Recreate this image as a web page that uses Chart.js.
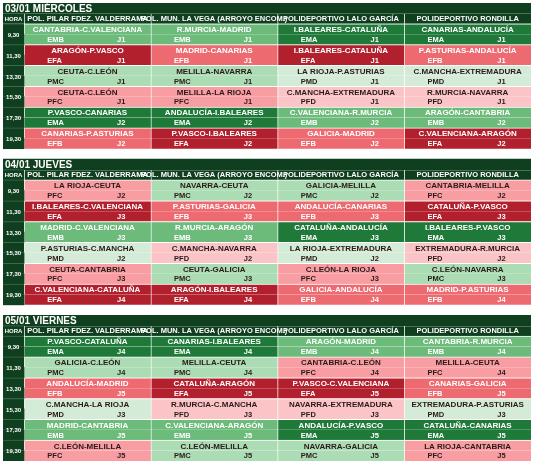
<!DOCTYPE html>
<html><head><meta charset="utf-8">
<script src="https://cdn.jsdelivr.net/npm/chart.js@4.4.1/dist/chart.umd.min.js"></script>
<style>html,body{margin:0;padding:0;background:#fff}</style>
</head><body>
<canvas id="c" width="534" height="462"></canvas>
<script>
const days = ["03/01 MIÉRCOLES", "04/01 JUEVES", "05/01 VIERNES"];
const venues = ["POL. PILAR FDEZ. VALDERRAMA", "POL. MUN. LA VEGA (ARROYO ENCOM.)", "POLIDEPORTIVO LALO GARCÍA", "POLIDEPORTIVO RONDILLA"];
const hours = ["9,30", "11,30", "13,30", "15,30", "17,30", "19,30"];

const matchesDay1 = [
  ["CANTABRIA-C.VALENCIANA", "R.MURCIA-MADRID", "I.BALEARES-CATALUÑA", "CANARIAS-ANDALUCÍA"],
  ["ARAGÓN-P.VASCO", "MADRID-CANARIAS", "I.BALEARES-CATALUÑA", "P.ASTURIAS-ANDALUCÍA"],
  ["CEUTA-C.LEÓN", "MELILLA-NAVARRA", "LA RIOJA-P.ASTURIAS", "C.MANCHA-EXTREMADURA"],
  ["CEUTA-C.LEÓN", "MELILLA-LA RIOJA", "C.MANCHA-EXTREMADURA", "R.MURCIA-NAVARRA"],
  ["P.VASCO-CANARIAS", "ANDALUCÍA-I.BALEARES", "C.VALENCIANA-R.MURCIA", "ARAGÓN-CANTABRIA"],
  ["CANARIAS-P.ASTURIAS", "P.VASCO-I.BALEARES", "GALICIA-MADRID", "C.VALENCIANA-ARAGÓN"]
];
const codesDay1 = [
  ["EMB","EMB","EMA","EMA"],["EFA","EFB","EFA","EFB"],["PMC","PMC","PMD","PMD"],
  ["PFC","PFC","PFD","PFD"],["EMA","EMA","EMB","EMB"],["EFB","EFA","EFB","EFA"]
];
const roundsDay1 = [
  ["J1","J1","J1","J1"],["J1","J1","J1","J1"],["J1","J1","J1","J1"],
  ["J1","J1","J1","J1"],["J2","J2","J2","J2"],["J2","J2","J2","J2"]
];

const matchesDay2 = [
  ["LA RIOJA-CEUTA", "NAVARRA-CEUTA", "GALICIA-MELILLA", "CANTABRIA-MELILLA"],
  ["I.BALEARES-C.VALENCIANA", "P.ASTURIAS-GALICIA", "ANDALUCÍA-CANARIAS", "CATALUÑA-P.VASCO"],
  ["MADRID-C.VALENCIANA", "R.MURCIA-ARAGÓN", "CATALUÑA-ANDALUCÍA", "I.BALEARES-P.VASCO"],
  ["P.ASTURIAS-C.MANCHA", "C.MANCHA-NAVARRA", "LA RIOJA-EXTREMADURA", "EXTREMADURA-R.MURCIA"],
  ["CEUTA-CANTABRIA", "CEUTA-GALICIA", "C.LEÓN-LA RIOJA", "C.LEÓN-NAVARRA"],
  ["C.VALENCIANA-CATALUÑA", "ARAGÓN-I.BALEARES", "GALICIA-ANDALUCÍA", "MADRID-P.ASTURIAS"]
];
const codesDay2 = [
  ["PFC","PMC","PMC","PFC"],["EFA","EFB","EFB","EFA"],["EMB","EMB","EMA","EMA"],
  ["PMD","PFD","PMD","PFD"],["PFC","PMC","PFC","PMC"],["EFA","EFA","EFB","EFB"]
];
const roundsDay2 = [
  ["J2","J2","J2","J2"],["J3","J3","J3","J3"],["J3","J3","J3","J3"],
  ["J2","J2","J2","J2"],["J3","J3","J3","J3"],["J4","J4","J4","J4"]
];

const matchesDay3 = [
  ["P.VASCO-CATALUÑA", "CANARIAS-I.BALEARES", "ARAGÓN-MADRID", "CANTABRIA-R.MURCIA"],
  ["GALICIA-C.LEÓN", "MELILLA-CEUTA", "CANTABRIA-C.LEÓN", "MELILLA-CEUTA"],
  ["ANDALUCÍA-MADRID", "CATALUÑA-ARAGÓN", "P.VASCO-C.VALENCIANA", "CANARIAS-GALICIA"],
  ["C.MANCHA-LA RIOJA", "R.MURCIA-C.MANCHA", "NAVARRA-EXTREMADURA", "EXTREMADURA-P.ASTURIAS"],
  ["MADRID-CANTABRIA", "C.VALENCIANA-ARAGÓN", "ANDALUCÍA-P.VASCO", "CATALUÑA-CANARIAS"],
  ["C.LEÓN-MELILLA", "C.LEÓN-MELILLA", "NAVARRA-GALICIA", "LA RIOJA-CANTABRIA"]
];
const codesDay3 = [
  ["EMA","EMA","EMB","EMB"],["PMC","PMC","PFC","PFC"],["EFB","EFA","EFA","EFB"],
  ["PMD","PFD","PFD","PMD"],["EMB","EMB","EMA","EMA"],["PFC","PMC","PMC","PFC"]
];
const roundsDay3 = [
  ["J4","J4","J4","J4"],["J4","J4","J4","J4"],["J5","J5","J5","J5"],
  ["J3","J3","J3","J3"],["J5","J5","J5","J5"],["J5","J5","J5","J5"]
];

const allMatches = [matchesDay1, matchesDay2, matchesDay3];
const allCodes = [codesDay1, codesDay2, codesDay3];
const allRounds = [roundsDay1, roundsDay2, roundsDay3];

// styling
const DARK = "#0f3f1f";
const COLORS = {EMA:"#1f7a3a", EMB:"#6cbb7b", PMC:"#abdcb3", PMD:"#d4ebd7",
                EFA:"#b21f2d", EFB:"#ee6a71", PFC:"#f89ea3", PFD:"#fbc5c8"};
const LIGHT_TEXT = {EMA:true, EMB:true, EFA:true, EFB:true};
const FONT = "'Liberation Sans Narrow','Arial Narrow','Liberation Sans',Arial,sans-serif";

// layout in scale units
const SEC = 15, NROWS = 44;
const colStart = c => c === 0 ? 0 : 1 + 6 * (c - 1);
const colEnd = c => c === 0 ? 1 : 1 + 6 * c;
const labels = Array.from({length: NROWS}, (_, i) => "r" + i);

const datasets = [];
for (let c = 0; c <= 4; c++) {
  const data = new Array(NROWS).fill(null);
  const bg = new Array(NROWS).fill("rgba(0,0,0,0)");
  const bw = new Array(NROWS).fill(0);
  for (let s = 0; s < 3; s++) {
    const base = s * SEC;
    if (c === 0) { data[base] = [0, 25]; bg[base] = DARK; bw[base] = {top:0,left:0,right:0,bottom:0}; }
    data[base + 1] = [colStart(c), colEnd(c)];
    bg[base + 1] = DARK;
    bw[base + 1] = {top:1, left: c === 0 ? 0 : 1, right:0, bottom:0};
    for (let h = 0; h < hours.length; h++) {
      const r = base + 2 + 2 * h;
      const col = c === 0 ? DARK : COLORS[allCodes[s][h][c - 1]];
      data[r] = [colStart(c), colEnd(c)];
      data[r + 1] = [colStart(c), colEnd(c)];
      bg[r] = col; bg[r + 1] = col;
      bw[r] = {top:1, left: c === 0 ? 0 : 1, right:0, bottom:0};
      bw[r + 1] = {top:0, left: c === 0 ? 0 : 1, right:0, bottom:0};
    }
  }
  datasets.push({data, backgroundColor: bg, borderColor: c === 0 ? "#3b6b4a" : "#ffffff",
    borderWidth: bw, borderSkipped: false, grouped: false,
    barPercentage: 1, categoryPercentage: 1});
}

const textPlugin = {
  id: "texts",
  afterDatasetsDraw(chart) {
    const ctx = chart.ctx, xs = chart.scales.x, ys = chart.scales.y;
    ctx.save();
    ctx.textBaseline = "middle";
    for (let s = 0; s < 3; s++) {
      const base = s * SEC;
      ctx.fillStyle = "#ffffff";
      ctx.textAlign = "left";
      ctx.font = "bold 10px " + FONT;
      ctx.fillText(days[s], xs.getPixelForValue(0) + 2, ys.getPixelForValue(base) + 1);
      ctx.textAlign = "center";
      ctx.font = "bold 6px " + FONT;
      ctx.fillText("HORA", xs.getPixelForValue(0.5), ys.getPixelForValue(base + 1) + 0.5);
      ctx.font = "bold 7.5px " + FONT;
      for (let v = 0; v < 4; v++) {
        ctx.fillText(venues[v], (xs.getPixelForValue(colStart(v + 1)) + xs.getPixelForValue(colEnd(v + 1))) / 2,
                     ys.getPixelForValue(base + 1) + 0.5);
      }
      for (let h = 0; h < hours.length; h++) {
        const r = base + 2 + 2 * h;
        const yMid = (ys.getPixelForValue(r) + ys.getPixelForValue(r + 1)) / 2;
        ctx.fillStyle = "#ffffff";
        ctx.textAlign = "center";
        ctx.font = "bold 6px " + FONT;
        ctx.fillText(hours[h], xs.getPixelForValue(0.5), yMid + 1);
        for (let v = 0; v < 4; v++) {
          const code = allCodes[s][h][v];
          const x0 = colStart(v + 1);
          ctx.fillStyle = LIGHT_TEXT[code] ? "#ffffff" : "#2a1a1a";
          ctx.textAlign = "center";
          ctx.font = "bold 8px " + FONT;
          ctx.fillText(allMatches[s][h][v], xs.getPixelForValue(x0 + 3), ys.getPixelForValue(r) + 1);
          ctx.font = "bold 7.5px " + FONT;
          ctx.textAlign = "left";
          ctx.fillText(code, xs.getPixelForValue(x0 + 1.1), ys.getPixelForValue(r + 1) + 0.5);
          ctx.fillText(allRounds[s][h][v], xs.getPixelForValue(x0 + 4.4), ys.getPixelForValue(r + 1) + 0.5);
        }
      }
    }
    ctx.restore();
  }
};

new Chart(document.getElementById("c"), {
  type: "bar",
  data: {labels, datasets},
  options: {
    indexAxis: "y",
    responsive: false,
    animation: false,
    layout: {padding: {left: 3, right: 3, top: 3, bottom: 1}},
    plugins: {legend: {display: false}, tooltip: {enabled: false}},
    scales: {
      x: {type: "linear", min: 0, max: 25, display: false},
      y: {display: false}
    }
  },
  plugins: [textPlugin]
});
</script>
</body></html>
